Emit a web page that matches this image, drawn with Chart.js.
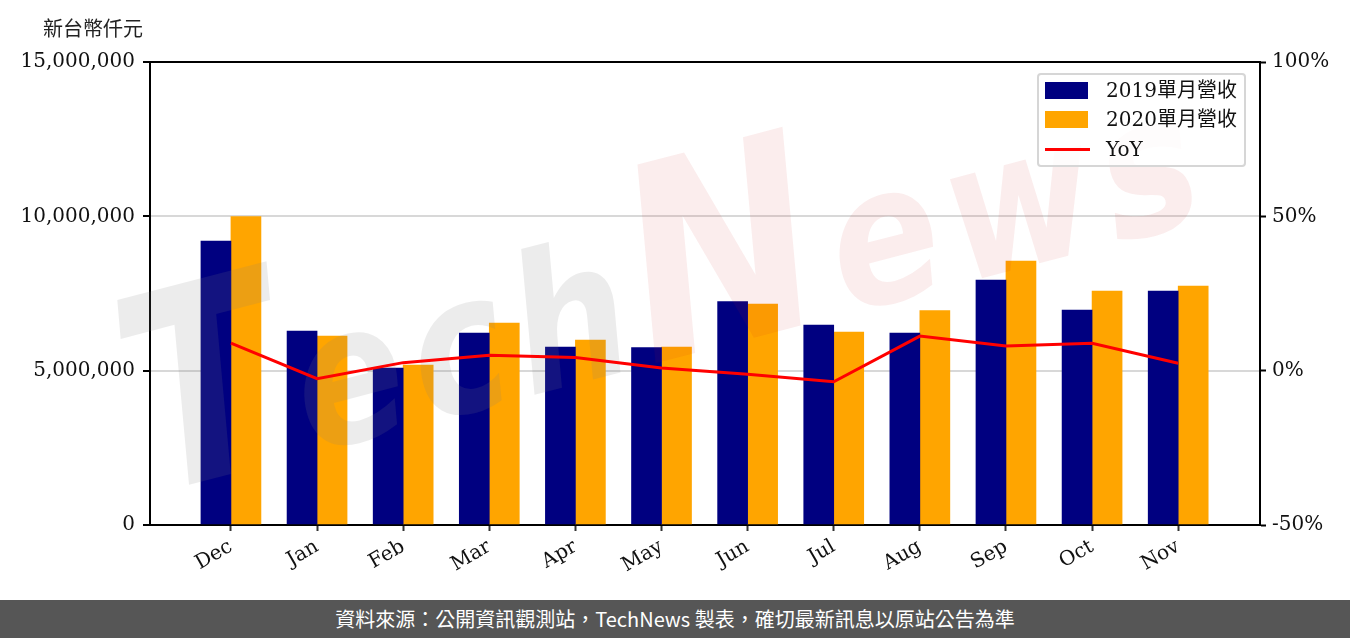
<!DOCTYPE html>
<html>
<head>
<meta charset="utf-8">
<script src="https://cdn.jsdelivr.net/npm/chart.js@4.4.1/dist/chart.umd.min.js"></script>
<style>
  body { margin: 0; background: #fff; }
  #wrap { position: relative; width: 1350px; height: 638px; overflow: hidden; }
  #revChart { position: absolute; left: 0; top: 0; }
  #unit { position: absolute; left: 43px; top: 13px; font: 20px "Noto Sans CJK TC", sans-serif; color: #222; }
  #legend {
    position: absolute; left: 1037px; top: 73px; width: 205px; height: 90px;
    border: 2px solid #d6d6d6; border-radius: 4px; background: rgba(255,255,255,0.8);
  }
  .row { position: absolute; left: 0; height: 24px; width: 100%; }
  .sw { position: absolute; left: 6px; top: 4px; width: 43px; height: 17px; }
  .ln { position: absolute; left: 6px; top: 11px; width: 45px; height: 3px; }
  .lb { position: absolute; left: 67px; top: 0; font: 20px "DejaVu Serif", "Noto Sans CJK TC", serif; color: #111; line-height: 24px; white-space: nowrap; }
  #footer {
    position: absolute; left: 0; top: 600px; width: 1350px; height: 38px; background: #565656;
    color: #fff; font: 20px "Noto Sans CJK TC", sans-serif; text-align: center; line-height: 38px;
  }
</style>
</head>
<body>
<div id="wrap">
  <canvas id="revChart" width="1350" height="600"></canvas>
  <div id="unit">新台幣仟元</div>
  <div id="legend"></div>
  <div id="footer">資料來源：公開資訊觀測站，TechNews 製表，確切最新訊息以原站公告為準</div>
</div>
<script>
const months = ["Dec", "Jan", "Feb", "Mar", "Apr", "May", "Jun", "Jul", "Aug", "Sep", "Oct", "Nov"];

const rev2019 = [9201000, 6285000, 5086000, 6220000, 5767000, 5745000, 7235000, 6479000, 6220000, 7937000, 6965000, 7581000];
const rev2020 = [9989000, 6123000, 5184000, 6544000, 5994000, 5767000, 7160000, 6253000, 6944000, 8553000, 7581000, 7743000];
const yoy = [8.9, -2.6, 2.6, 5.0, 4.3, 0.9, -1.2, -3.6, 11.2, 8.0, 8.9, 2.4];

const leftTicks = [0, 5000000, 10000000, 15000000];
const rightTicks = [-50, 0, 50, 100];

const tickFont = { family: "'DejaVu Serif', serif", size: 20 };

function points(values) {
  return values.map((v, i) => ({ x: i, y: v }));
}

// faint "TechNews" watermark, drawn after the bars and before the YoY line
const watermark = {
  id: "watermark",
  afterDatasetDraw(chart, args) {
    if (args.index !== 0) return;
    const ctx = chart.ctx;
    const grey = "rgba(128,128,128,0.15)";
    const pink = "rgba(210,30,30,0.08)";
    const parts = [
      { t: "T", big: true, c: grey },
      { t: "e", c: grey },
      { t: "c", c: grey },
      { t: "h", c: grey },
      { t: "N", big: true, c: pink },
      { t: "e", c: pink },
      { t: "w", c: pink },
      { t: "s", c: pink }
    ];
    ctx.save();
    ctx.translate(150, 495);
    ctx.rotate(-14.6 * Math.PI / 180);
    ctx.scale(0.85, 1);
    let x = 0;
    parts.forEach(p => {
      ctx.font = "italic bold " + (p.big ? 270 : 190) + "px 'DejaVu Sans'";
      ctx.fillStyle = p.c;
      ctx.fillText(p.t, x, 0);
      x += ctx.measureText(p.t).width + 12;
    });
    ctx.restore();
  }
};

// top spine
const frame = {
  id: "frame",
  afterDraw(chart) {
    const a = chart.chartArea;
    const ctx = chart.ctx;
    ctx.save();
    ctx.strokeStyle = "#000";
    ctx.lineWidth = 2;
    ctx.beginPath();
    ctx.moveTo(a.left - 1, a.top);
    ctx.lineTo(a.right + 1, a.top);
    ctx.stroke();
    ctx.restore();
  }
};

const chart = new Chart(document.getElementById("revChart").getContext("2d"), {
  type: "bar",
  data: {
    datasets: [
      {
        label: "2019單月營收",
        data: points(rev2019),
        backgroundColor: "#000080",
        barThickness: 30,
        yAxisID: "y"
      },
      {
        label: "2020單月營收",
        data: points(rev2020),
        backgroundColor: "#ffa500",
        barThickness: 30,
        yAxisID: "y"
      },
      {
        type: "line",
        label: "YoY",
        data: points(yoy),
        borderColor: "#ff0000",
        borderWidth: 3,
        pointRadius: 0,
        tension: 0,
        order: -1,
        yAxisID: "y1"
      }
    ]
  },
  options: {
    responsive: false,
    animation: false,
    layout: { padding: { top: 62, left: 0, right: 0, bottom: 0 } },
    plugins: {
      legend: { display: false },
      tooltip: { enabled: false }
    },
    scales: {
      x: {
        type: "linear",
        offset: false,
        min: -0.94,
        max: 11.95,
        afterBuildTicks: s => { s.ticks = months.map((m, i) => ({ value: i })); },
        afterFit: s => { s.height = 75; },
        ticks: {
          autoSkip: false,
          minRotation: 30,
          maxRotation: 30,
          color: "#111",
          font: tickFont,
          padding: 4,
          callback: v => months[v]
        },
        grid: { offset: false, drawOnChartArea: false, tickLength: 6, tickColor: "#333", tickWidth: 2 },
        border: { color: "#000", width: 2 }
      },
      y: {
        position: "left",
        min: 0,
        max: 15000000,
        afterBuildTicks: s => { s.ticks = leftTicks.map(v => ({ value: v })); },
        afterFit: s => { s.width = 150; },
        ticks: {
          color: "#111",
          font: tickFont,
          padding: 8,
          callback: v => v.toLocaleString("en-US")
        },
        grid: { color: "#d8d8d8", lineWidth: 2, tickColor: "#000", tickLength: 7, tickWidth: 2 },
        border: { color: "#000", width: 2 }
      },
      y1: {
        position: "right",
        min: -50,
        max: 100,
        afterBuildTicks: s => { s.ticks = rightTicks.map(v => ({ value: v })); },
        afterFit: s => { s.width = 90; },
        ticks: {
          color: "#111",
          font: tickFont,
          padding: 6,
          callback: v => v + "%"
        },
        grid: { drawOnChartArea: false, tickColor: "#000", tickLength: 6, tickWidth: 2 },
        border: { color: "#000", width: 2 }
      }
    }
  },
  plugins: [watermark, frame]
});

// legend box built from the chart's datasets
const legendEl = document.getElementById("legend");
chart.data.datasets.forEach((ds, i) => {
  const row = document.createElement("div");
  row.className = "row";
  row.style.top = [3, 32, 62][i] + "px";
  const mark = document.createElement("div");
  if (ds.type === "line") {
    mark.className = "ln";
    mark.style.background = ds.borderColor;
  } else {
    mark.className = "sw";
    mark.style.background = ds.backgroundColor;
  }
  const lb = document.createElement("div");
  lb.className = "lb";
  lb.textContent = ds.label;
  row.appendChild(mark);
  row.appendChild(lb);
  legendEl.appendChild(row);
});
</script>
</body>
</html>
